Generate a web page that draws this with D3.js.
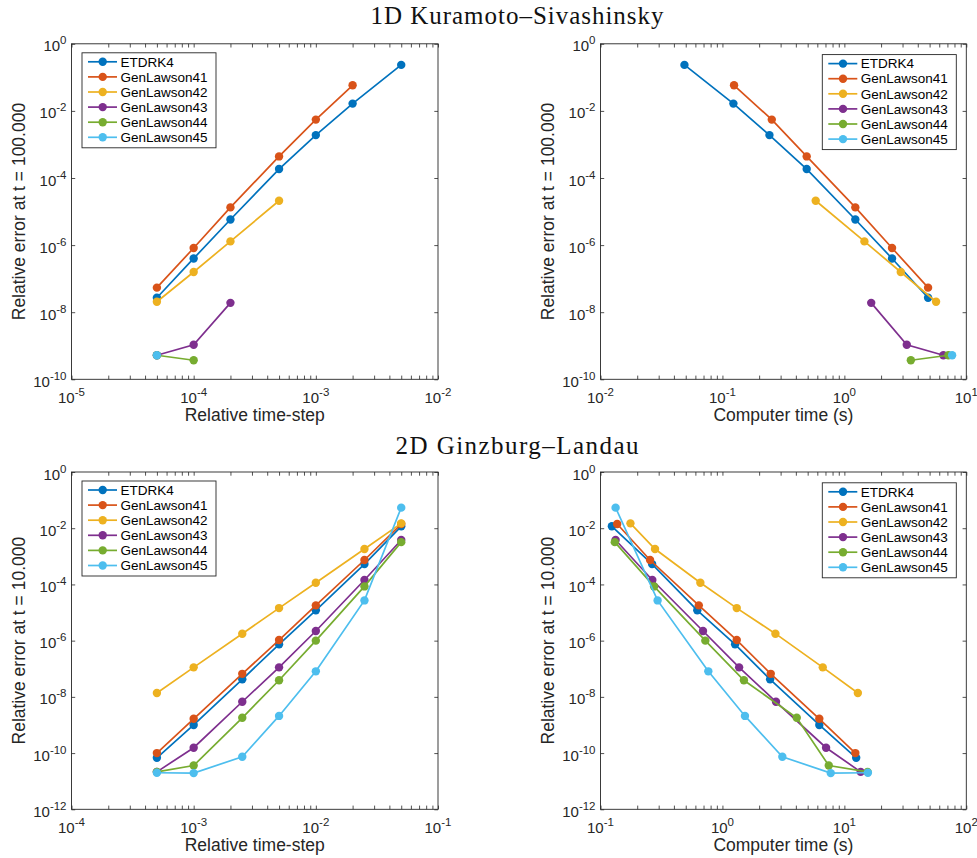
<!DOCTYPE html>
<html>
<head>
<meta charset="utf-8">
<script src="https://cdn.jsdelivr.net/npm/d3@7"></script>
<style>
  html, body { margin: 0; padding: 0; background: #fff; }
  svg { display: block; }
</style>
</head>
<body>
<svg id="chart" width="977" height="858"></svg>
<script>
// ---------------- DATA ----------------
const methodNames = ["ETDRK4", "GenLawson41", "GenLawson42", "GenLawson43", "GenLawson44", "GenLawson45"];
const methodColors = ["#0072BD", "#D95319", "#EDB120", "#7E2F8E", "#77AC30", "#4DBEEE"];

// 1D Kuramoto–Sivashinsky (relative time-step ascending)
const ksDt = [5e-5, 1e-4, 2e-4, 5e-4, 1e-3, 2e-3, 5e-3];
const ksErrETDRK4 = [2.7e-8, 4.0e-7, 5.8e-6, 1.85e-4, 1.9e-3, 1.65e-2, 0.235];
const ksErrGL41 = [5.4e-8, 8.2e-7, 1.33e-5, 4.4e-4, 5.5e-3, 5.8e-2];
const ksErrGL42 = [2.05e-8, 1.58e-7, 1.29e-6, 2.1e-5];
const ksErrGL43 = [5.2e-10, 1.07e-9, 1.9e-8];
const ksErrGL44 = [5.2e-10, 3.7e-10];
const ksErrGL45 = [5.2e-10];
const ksTimeETDRK4 = [4.86, 2.46, 1.23, 0.491, 0.243, 0.123, 0.0488];
const ksTimeGL41 = [4.86, 2.46, 1.23, 0.491, 0.254, 0.1245];
const ksTimeGL42 = [5.65, 2.90, 1.46, 0.582];
const ksTimeGL43 = [6.49, 3.25, 1.66];
const ksTimeGL44 = [7.13, 3.51];
const ksTimeGL45 = [7.65];

// 2D Ginzburg–Landau (relative time-step ascending)
const glDt = [5e-4, 1e-3, 2.5e-3, 5e-3, 1e-2, 2.5e-2, 5e-2];
const glErrETDRK4 = [6.8e-11, 1.0e-9, 4.2e-8, 7.4e-7, 1.2e-5, 5.3e-4, 1.17e-2];
const glErrGL41 = [1.0e-10, 1.66e-9, 6.6e-8, 1.05e-6, 1.8e-5, 7.4e-4, 1.41e-2];
const glErrGL42 = [1.37e-8, 1.12e-7, 1.77e-6, 1.44e-5, 1.15e-4, 1.82e-3, 1.49e-2];
const glErrGL43 = [2.15e-11, 1.55e-10, 6.7e-9, 1.12e-7, 2.2e-6, 1.44e-4, 3.8e-3];
const glErrGL44 = [2.15e-11, 3.6e-11, 1.8e-9, 3.9e-8, 1.0e-6, 8.5e-5, 3.2e-3];
const glErrGL45 = [2.0e-11, 1.94e-11, 7.4e-11, 2.1e-9, 8.1e-8, 2.7e-5, 5.4e-2];
const glTimeETDRK4 = [12.5, 6.23, 2.46, 1.27, 0.622, 0.265, 0.124];
const glTimeGL41 = [12.3, 6.23, 2.49, 1.31, 0.64, 0.255, 0.137];
const glTimeGL42 = [12.9, 6.65, 2.72, 1.31, 0.659, 0.28, 0.176];
const glTimeGL43 = [13.6, 7.08, 2.75, 1.37, 0.693, 0.266, 0.133];
const glTimeGL44 = [15.5, 7.45, 4.07, 1.50, 0.724, 0.275, 0.131];
const glTimeGL45 = [15.6, 7.73, 3.10, 1.53, 0.766, 0.294, 0.133];

// tick labels (exponents of 10)
const ksDtTickExp = [-5, -4, -3, -2];
const ksTimeTickExp = [-2, -1, 0, 1];
const ksErrTickExp = [0, -2, -4, -6, -8, -10];
const glDtTickExp = [-4, -3, -2, -1];
const glTimeTickExp = [-1, 0, 1, 2];
const glErrTickExp = [0, -2, -4, -6, -8, -10, -12];

const titles = ["1D Kuramoto\u2013Sivashinsky", "2D Ginzburg\u2013Landau"];
const xLabelDt = "Relative time-step";
const xLabelTime = "Computer time (s)";
const yLabelKS = "Relative error at t = 100.000";
const yLabelGL = "Relative error at t = 10.000";

// ---------------- BUILD SERIES ----------------
function series(xs, ys) { return xs.map((x, i) => ({ x: x, y: ys[i] })).filter(d => d.y !== undefined); }

const ksErr = [ksErrETDRK4, ksErrGL41, ksErrGL42, ksErrGL43, ksErrGL44, ksErrGL45];
const ksTime = [ksTimeETDRK4, ksTimeGL41, ksTimeGL42, ksTimeGL43, ksTimeGL44, ksTimeGL45];
const glErr = [glErrETDRK4, glErrGL41, glErrGL42, glErrGL43, glErrGL44, glErrGL45];
const glTime = [glTimeETDRK4, glTimeGL41, glTimeGL42, glTimeGL43, glTimeGL44, glTimeGL45];

const panels = [
  { box: [71.5, 43.8, 438, 379.3], xExp: ksDtTickExp, yExp: ksErrTickExp,
    lines: ksErr.map(e => series(ksDt.slice(0, e.length), e)),
    xLabel: xLabelDt, yLabel: yLabelKS, legend: "left" },
  { box: [600.5, 43.8, 966.3, 379.3], xExp: ksTimeTickExp, yExp: ksErrTickExp,
    lines: ksErr.map((e, i) => series(ksTime[i], e)),
    xLabel: xLabelTime, yLabel: yLabelKS, legend: "right" },
  { box: [71.5, 472, 438, 809.3], xExp: glDtTickExp, yExp: glErrTickExp,
    lines: glErr.map(e => series(glDt, e)),
    xLabel: xLabelDt, yLabel: yLabelGL, legend: "left" },
  { box: [600.5, 472, 966.3, 809.3], xExp: glTimeTickExp, yExp: glErrTickExp,
    lines: glErr.map((e, i) => series(glTime[i], e)),
    xLabel: xLabelTime, yLabel: yLabelGL, legend: "right" }
];

// ---------------- DRAW ----------------
const svg = d3.select("#chart");
svg.append("rect").attr("width", 977).attr("height", 858).attr("fill", "#fff");

const axisColor = "#262626";
const font = "'Liberation Sans', Arial, Helvetica, sans-serif";
const tickLen = 3.7;

function powLabel(sel, x, y, exp, anchor) {
  const t = sel.append("text")
    .attr("x", x).attr("y", y)
    .attr("text-anchor", anchor)
    .attr("font-family", font).attr("font-size", 15)
    .attr("fill", axisColor);
  t.append("tspan").text("10");
  t.append("tspan").attr("font-size", 11.5).attr("dy", -7).text(String(exp));
}

panels.forEach(p => {
  const [x0, y0, x1, y1] = p.box;
  const xMin = Math.min(...p.xExp), xMax = Math.max(...p.xExp);
  const yMin = Math.min(...p.yExp), yMax = Math.max(...p.yExp);
  const x = d3.scaleLog().domain([Math.pow(10, xMin), Math.pow(10, xMax)]).range([x0, x1]);
  const y = d3.scaleLog().domain([Math.pow(10, yMin), Math.pow(10, yMax)]).range([y1, y0]);
  const g = svg.append("g");

  // minor + major x ticks
  const xMinor = [];
  for (let k = xMin; k < xMax; k++) for (let m = 2; m <= 9; m++) xMinor.push(m * Math.pow(10, k));
  const xMajor = p.xExp.map(e => Math.pow(10, e));
  const yMajor = p.yExp.map(e => Math.pow(10, e));
  const xTicks = xMajor.concat(xMinor);

  const axB = d3.axisBottom(x).tickValues(xTicks).tickSize(-tickLen).tickFormat("");
  const axT = d3.axisTop(x).tickValues(xTicks).tickSize(-tickLen).tickFormat("");
  const axL = d3.axisLeft(y).tickValues(yMajor).tickSize(-tickLen).tickFormat("");
  const axR = d3.axisRight(y).tickValues(yMajor).tickSize(-tickLen).tickFormat("");
  [[axB, `translate(0,${y1})`], [axT, `translate(0,${y0})`], [axL, `translate(${x0},0)`], [axR, `translate(${x1},0)`]]
    .forEach(([ax, tr]) => {
      const a = g.append("g").attr("transform", tr).call(ax);
      a.select(".domain").remove();
      a.selectAll("line").attr("stroke", axisColor).attr("stroke-width", 0.8);
    });

  // box
  g.append("rect").attr("x", x0).attr("y", y0).attr("width", x1 - x0).attr("height", y1 - y0)
    .attr("fill", "none").attr("stroke", axisColor).attr("stroke-width", 0.9);

  // tick labels
  p.xExp.forEach(e => powLabel(g, x(Math.pow(10, e)), y1 + 24, e, "middle"));
  p.yExp.forEach(e => powLabel(g, x0 - 5, y(Math.pow(10, e)) + 7.5, e, "end"));

  // axis labels
  g.append("text").attr("x", (x0 + x1) / 2).attr("y", y1 + 42)
    .attr("text-anchor", "middle").attr("font-family", font).attr("font-size", 17.5)
    .attr("fill", axisColor).text(p.xLabel);
  g.append("text").attr("transform", `translate(${x0 - 46.8},${(y0 + y1) / 2}) rotate(-90)`)
    .attr("text-anchor", "middle").attr("font-family", font).attr("font-size", 17.5)
    .attr("fill", axisColor).text(p.yLabel);

  // series
  const line = d3.line().x(d => x(d.x)).y(d => y(d.y));
  p.lines.forEach((s, i) => {
    const sg = g.append("g");
    sg.append("path").datum(s).attr("d", line).attr("fill", "none")
      .attr("stroke", methodColors[i]).attr("stroke-width", 1.7);
    sg.selectAll("circle").data(s).enter().append("circle")
      .attr("cx", d => x(d.x)).attr("cy", d => y(d.y)).attr("r", 4.2)
      .attr("fill", methodColors[i]);
  });

  // legend
  const lw = 134, lh = 95;
  const lx = p.legend === "left" ? x0 + 10.5 : x1 - 10 - lw;
  const ly = y0 + (p.legend === "left" ? 9 : 10.8);
  const lg = g.append("g").attr("transform", `translate(${lx},${ly})`);
  lg.append("rect").attr("width", lw).attr("height", lh).attr("fill", "#fff")
    .attr("stroke", axisColor).attr("stroke-width", 0.9);
  methodNames.forEach((n, i) => {
    const ry = 9 + i * 15.1;
    lg.append("line").attr("x1", 6).attr("x2", 35).attr("y1", ry).attr("y2", ry)
      .attr("stroke", methodColors[i]).attr("stroke-width", 1.7);
    lg.append("circle").attr("cx", 20.7).attr("cy", ry).attr("r", 4.2).attr("fill", methodColors[i]);
    lg.append("text").attr("x", 38.5).attr("y", ry + 4.8)
      .attr("font-family", font).attr("font-size", 13.5).attr("fill", "#000").text(n);
  });
});

// titles
svg.append("text").attr("x", 517).attr("y", 24).attr("text-anchor", "middle")
  .attr("font-family", "'Liberation Serif', 'Times New Roman', serif").attr("font-size", 25)
  .attr("textLength", 293).attr("lengthAdjust", "spacing").attr("fill", "#111").text(titles[0]);
svg.append("text").attr("x", 517).attr("y", 454).attr("text-anchor", "middle")
  .attr("font-family", "'Liberation Serif', 'Times New Roman', serif").attr("font-size", 25)
  .attr("textLength", 243).attr("lengthAdjust", "spacing").attr("fill", "#111").text(titles[1]);
</script>
</body>
</html>
